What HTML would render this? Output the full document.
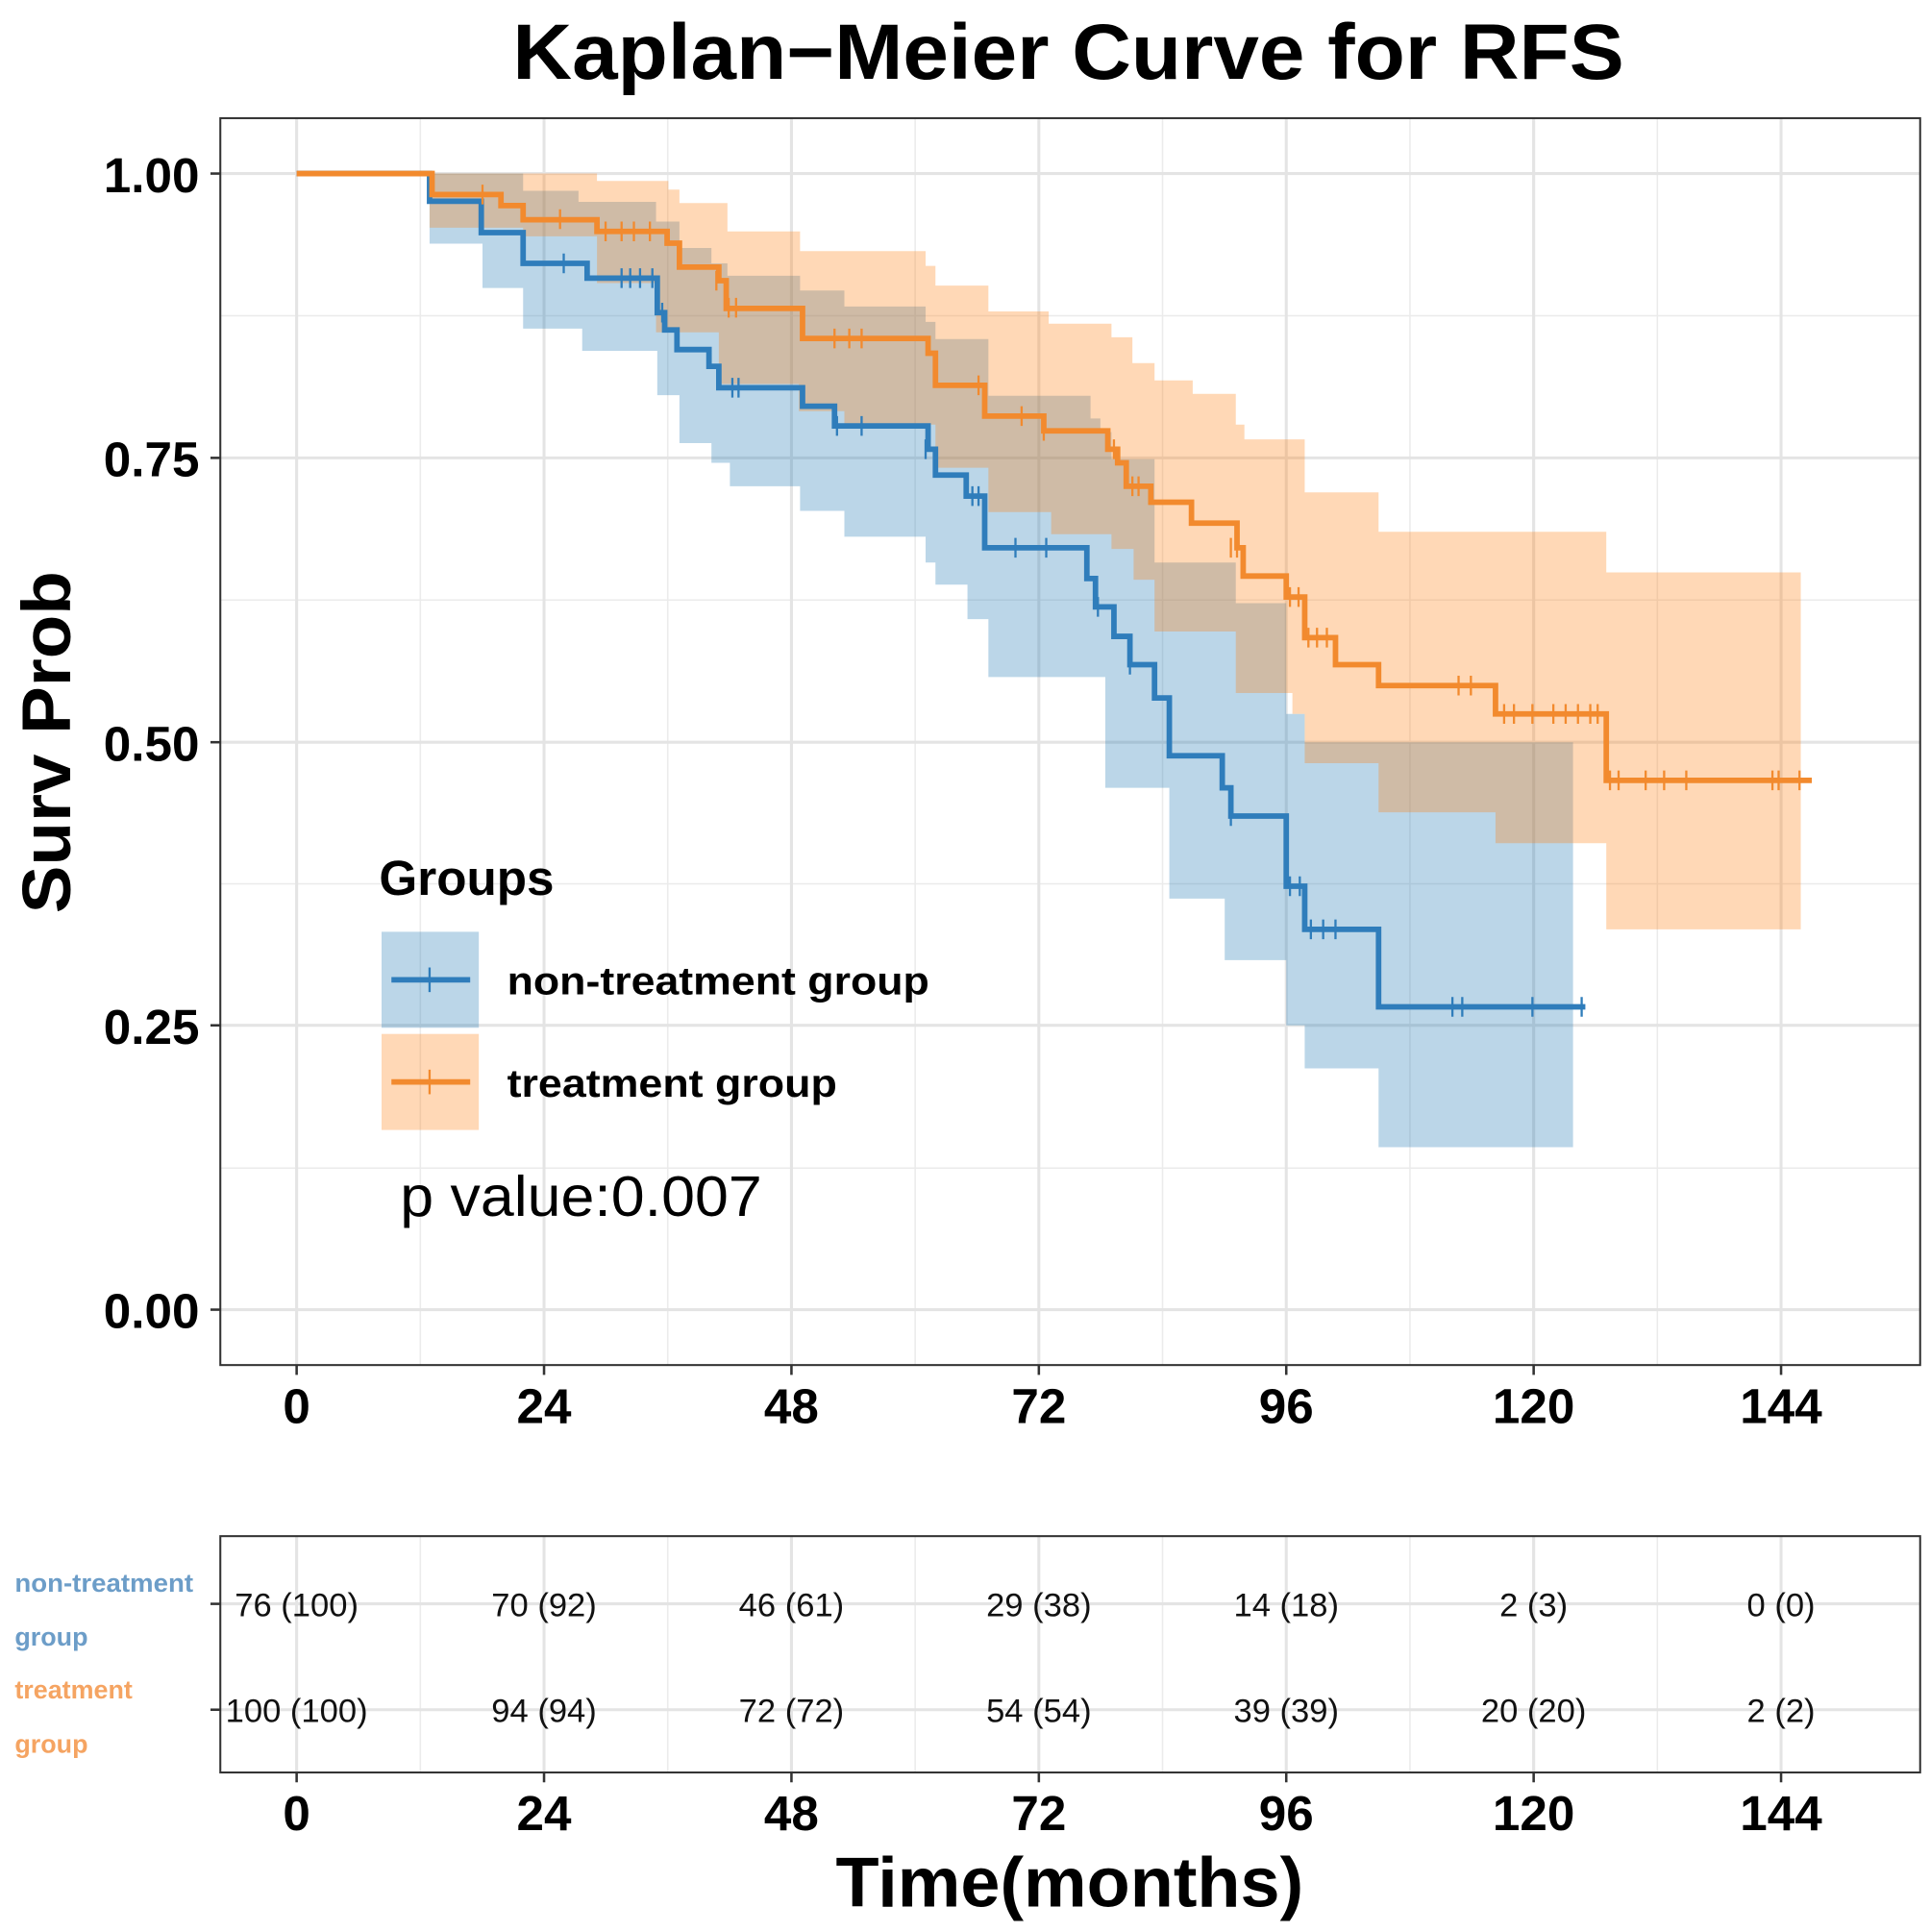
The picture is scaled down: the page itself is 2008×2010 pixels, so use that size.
<!DOCTYPE html>
<html><head><meta charset="utf-8"><style>html,body{margin:0;padding:0;background:#fff}svg{display:block}</style></head>
<body>
<svg width="2008" height="2010" viewBox="0 0 1568 1569.6" preserveAspectRatio="none" xmlns="http://www.w3.org/2000/svg" font-family="Liberation Sans, Arial, sans-serif">
<rect width="1568" height="1570" fill="#fff"/>
<text x="868" y="64" text-anchor="middle" font-weight="bold" font-size="64" textLength="903" lengthAdjust="spacingAndGlyphs">Kaplan−Meier Curve for RFS</text>
<g stroke="#ebebeb" stroke-width="1.2">
<line x1="179" x2="1560" y1="256.5" y2="256.5"/><line x1="179" x2="1560" y1="487.5" y2="487.5"/><line x1="179" x2="1560" y1="718" y2="718"/><line x1="179" x2="1560" y1="949" y2="949"/>
<line y1="96" y2="1109" x1="341.5" x2="341.5"/><line y1="96" y2="1109" x1="542.5" x2="542.5"/><line y1="96" y2="1109" x1="743.5" x2="743.5"/><line y1="96" y2="1109" x1="944.5" x2="944.5"/><line y1="96" y2="1109" x1="1145.5" x2="1145.5"/><line y1="96" y2="1109" x1="1346.5" x2="1346.5"/>
</g>
<g stroke="#e4e4e4" stroke-width="2.4">
<line x1="179" x2="1560" y1="141" y2="141"/><line x1="179" x2="1560" y1="372" y2="372"/><line x1="179" x2="1560" y1="603" y2="603"/><line x1="179" x2="1560" y1="833" y2="833"/><line x1="179" x2="1560" y1="1064" y2="1064"/>
<line y1="96" y2="1109" x1="241" x2="241"/><line y1="96" y2="1109" x1="442" x2="442"/><line y1="96" y2="1109" x1="643" x2="643"/><line y1="96" y2="1109" x1="844" x2="844"/><line y1="96" y2="1109" x1="1045" x2="1045"/><line y1="96" y2="1109" x1="1246" x2="1246"/><line y1="96" y2="1109" x1="1447" x2="1447"/>
</g>
<path fill="#1f77b4" fill-opacity="0.3" d="M349,141 H425 V155 H470 V164 H533 V180 H552 V201.5 H578 V214 H591 V224 H650 V236 H686 V249 H752 V261.5 H760 V275.5 H803 V321.5 H886 V340 H894 V351 H903 V373 H938 V457 H1004 V490 H1045 V580 H1060 V603 H1278 V932 H1120 V868 H1060 V833 H1045 V780 H995 V730 H950 V640 H898 V550 H803 V503 H786 V475 H760 V457 H752 V436 H686 V415 H650 V395 H593 V376 H578 V360 H552 V321 H534 V285 H473 V267 H425 V234 H392 V198 H349 Z"/>
<path fill="#ff7f0e" fill-opacity="0.3" d="M349,141 H485 V147 H543 V154 H552 V165 H591 V188 H650 V204 H752 V216 H760 V232 H803 V253 H852 V263 H903 V274 H920 V295 H938 V309 H969 V320 H1004 V345 H1011 V357 H1060 V400 H1120 V432 H1305 V465 H1463 V755 H1305 V685 H1215 V660 H1120 V620 H1060 V580 H1050 V563 H1004 V513 H938 V471 H921 V446 H903 V434 H854 V416 H803 V380 H760 V345 H686 V334 H649 V312 H584 V270 H533 V230 H485 V192 H425 V185 H349 Z"/>
<path fill="none" stroke="#2f7dbb" stroke-width="4.5" d="M241,141 H349 V163.5 H391 V189 H425 V214 H477 V226 H534 V254 H540 V268 H550 V284 H576 V297.6 H584 V315 H652 V330 H678 V346 H754 V365 H760 V386 H785 V403 H800 V445 H883 V470 H890 V493 H905 V517 H918 V540 H938 V567 H950 V614 H993 V640 H1000 V663 H1045 V720 H1060 V755 H1120 V818 H1288"/>
<path fill="none" stroke="#f28a2e" stroke-width="4.5" d="M241,141 H351 V158 H407 V167 H425 V178.5 H485 V188 H542 V197.6 H552 V217 H584 V228 H590 V250.6 H652 V275 H754 V287 H760 V313 H800 V338 H848 V350 H900 V365 H908 V376 H915 V395 H935 V408 H968 V425 H1005 V445 H1010 V468 H1045 V485 H1060 V518 H1085 V540 H1120 V557 H1215 V580 H1305 V634 H1472"/>
<text x="308" y="727" font-weight="bold" font-size="40">Groups</text>
<rect x="310" y="757" width="79" height="78" fill="#1f77b4" fill-opacity="0.3"/>
<rect x="310" y="840" width="79" height="78" fill="#ff7f0e" fill-opacity="0.3"/>
<line x1="318" x2="382" y1="796" y2="796" stroke="#2f7dbb" stroke-width="4.5"/><line x1="349" x2="349" y1="786" y2="806" stroke="#2f7dbb" stroke-width="1.8"/>
<line x1="318" x2="382" y1="879" y2="879" stroke="#f28a2e" stroke-width="4.5"/><line x1="349" x2="349" y1="869" y2="889" stroke="#f28a2e" stroke-width="1.8"/>
<text x="412" y="808" font-weight="bold" font-size="32" textLength="343" lengthAdjust="spacingAndGlyphs">non-treatment group</text>
<text x="412" y="891" font-weight="bold" font-size="32" textLength="268" lengthAdjust="spacingAndGlyphs">treatment group</text>
<text x="325" y="988" font-size="46" textLength="294" lengthAdjust="spacingAndGlyphs">p value:0.007</text>
<rect x="179" y="96" width="1381" height="1013" fill="none" stroke="#333" stroke-width="1.6"/>
<g stroke="#333" stroke-width="2"><line x1="171" x2="179" y1="141" y2="141"/><line x1="171" x2="179" y1="372" y2="372"/><line x1="171" x2="179" y1="603" y2="603"/><line x1="171" x2="179" y1="833" y2="833"/><line x1="171" x2="179" y1="1064" y2="1064"/></g>
<g font-weight="bold" font-size="40" text-anchor="end"><text x="162" y="156">1.00</text><text x="162" y="387">0.75</text><text x="162" y="618">0.50</text><text x="162" y="848">0.25</text><text x="162" y="1079">0.00</text></g>
<text transform="translate(57,603) rotate(-90)" text-anchor="middle" font-weight="bold" font-size="56" textLength="278" lengthAdjust="spacingAndGlyphs">Surv Prob</text>
<g font-weight="bold" font-size="40" text-anchor="middle"><text x="241" y="1156">0</text><text x="442" y="1156">24</text><text x="643" y="1156">48</text><text x="844" y="1156">72</text><text x="1045" y="1156">96</text><text x="1246" y="1156">120</text><text x="1447" y="1156">144</text></g>
<g stroke="#ebebeb" stroke-width="1.2"><line y1="1248" y2="1440" x1="341.5" x2="341.5"/><line y1="1248" y2="1440" x1="542.5" x2="542.5"/><line y1="1248" y2="1440" x1="743.5" x2="743.5"/><line y1="1248" y2="1440" x1="944.5" x2="944.5"/><line y1="1248" y2="1440" x1="1145.5" x2="1145.5"/><line y1="1248" y2="1440" x1="1346.5" x2="1346.5"/></g>
<g stroke="#e4e4e4" stroke-width="2.4"><line x1="179" x2="1560" y1="1303" y2="1303"/><line x1="179" x2="1560" y1="1389" y2="1389"/>
<line y1="1248" y2="1440" x1="241" x2="241"/><line y1="1248" y2="1440" x1="442" x2="442"/><line y1="1248" y2="1440" x1="643" x2="643"/><line y1="1248" y2="1440" x1="844" x2="844"/><line y1="1248" y2="1440" x1="1045" x2="1045"/><line y1="1248" y2="1440" x1="1246" x2="1246"/><line y1="1248" y2="1440" x1="1447" x2="1447"/></g>
<rect x="179" y="1248" width="1381" height="192" fill="none" stroke="#333" stroke-width="1.6"/>
<g stroke="#333" stroke-width="2"><line x1="171" x2="179" y1="1303" y2="1303"/><line x1="171" x2="179" y1="1389" y2="1389"/>
<line x1="241" x2="241" y1="1440" y2="1448"/><line x1="442" x2="442" y1="1440" y2="1448"/><line x1="643" x2="643" y1="1440" y2="1448"/><line x1="844" x2="844" y1="1440" y2="1448"/><line x1="1045" x2="1045" y1="1440" y2="1448"/><line x1="1246" x2="1246" y1="1440" y2="1448"/><line x1="1447" x2="1447" y1="1440" y2="1448"/>
<line x1="241" x2="241" y1="1109" y2="1117"/><line x1="442" x2="442" y1="1109" y2="1117"/><line x1="643" x2="643" y1="1109" y2="1117"/><line x1="844" x2="844" y1="1109" y2="1117"/><line x1="1045" x2="1045" y1="1109" y2="1117"/><line x1="1246" x2="1246" y1="1109" y2="1117"/><line x1="1447" x2="1447" y1="1109" y2="1117"/></g>
<g font-size="27" text-anchor="middle" fill="#111">
<text x="241" y="1313">76 (100)</text><text x="442" y="1313">70 (92)</text><text x="643" y="1313">46 (61)</text><text x="844" y="1313">29 (38)</text><text x="1045" y="1313">14 (18)</text><text x="1246" y="1313">2 (3)</text><text x="1447" y="1313">0 (0)</text>
<text x="241" y="1399">100 (100)</text><text x="442" y="1399">94 (94)</text><text x="643" y="1399">72 (72)</text><text x="844" y="1399">54 (54)</text><text x="1045" y="1399">39 (39)</text><text x="1246" y="1399">20 (20)</text><text x="1447" y="1399">2 (2)</text>
</g>
<g font-weight="bold" font-size="21">
<text x="12" y="1293" fill="#6c9dc8" textLength="145" lengthAdjust="spacingAndGlyphs">non-treatment</text>
<text x="12" y="1337" fill="#6c9dc8">group</text>
<text x="12" y="1380" fill="#f5a462">treatment</text>
<text x="12" y="1424" fill="#f5a462">group</text>
</g>
<g font-weight="bold" font-size="40" text-anchor="middle"><text x="241" y="1487">0</text><text x="442" y="1487">24</text><text x="643" y="1487">48</text><text x="844" y="1487">72</text><text x="1045" y="1487">96</text><text x="1246" y="1487">120</text><text x="1447" y="1487">144</text></g>
<text x="869" y="1549" text-anchor="middle" font-weight="bold" font-size="57" textLength="380" lengthAdjust="spacingAndGlyphs">Time(months)</text>
<g stroke="#2f7dbb" stroke-width="1.8">
<path d="M458,206V222 M505,218V234 M512,218V234 M520,218V234 M530,218V234 M538,246V262 M595,307V323 M600,307V323 M680,338V354 M700,338V354 M752,357V373 M790,395V411 M795,395V411 M825,437V453 M850,437V453 M892,485V501 M918,532V548 M1000,655V671 M1048,712V728 M1056,712V728 M1065,747V763 M1075,747V763 M1085,747V763 M1180,810V826 M1188,810V826 M1245,810V826 M1285,810V826"/>
</g>
<g stroke="#f28a2e" stroke-width="1.8">
<path d="M392,150V166 M455,170V186 M492,180V196 M505,180V196 M515,180V196 M528,180V196 M582,220V236 M592,242V258 M598,242V258 M678,267V283 M690,267V283 M700,267V283 M795,305V321 M830,330V346 M848,342V358 M905,357V373 M920,387V403 M925,387V403 M1000,437V453 M1005,437V453 M1048,477V493 M1055,477V493 M1063,510V526 M1070,510V526 M1078,510V526 M1185,549V565 M1195,549V565 M1222,572V588 M1230,572V588 M1245,572V588 M1262,572V588 M1272,572V588 M1282,572V588 M1292,572V588 M1298,572V588 M1308,626V642 M1315,626V642 M1337,626V642 M1352,626V642 M1370,626V642 M1440,626V642 M1445,626V642 M1462,626V642"/>
</g>
</svg>
</body></html>
